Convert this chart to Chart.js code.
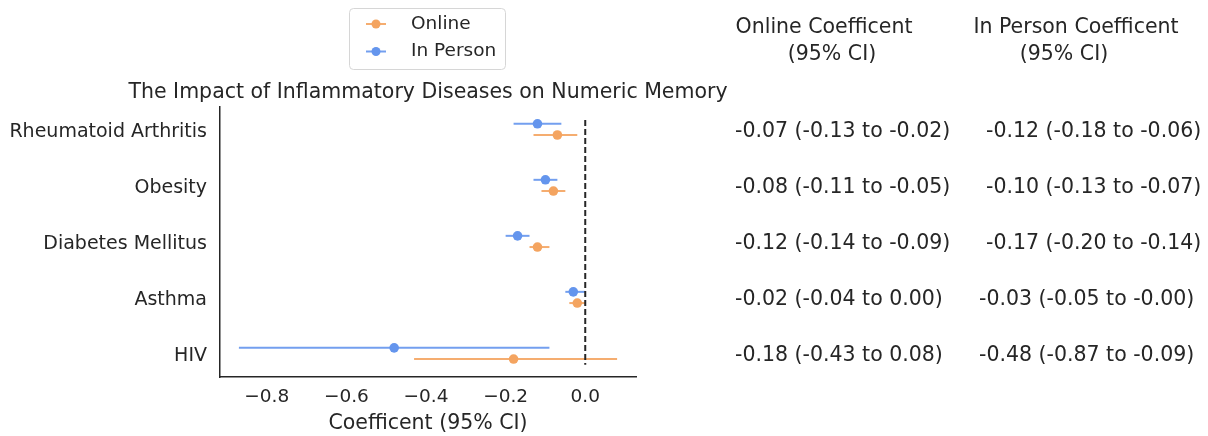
<!DOCTYPE html>
<html>
<head>
<meta charset="utf-8">
<script src="https://cdn.jsdelivr.net/npm/chart.js@4.4.1/dist/chart.umd.min.js"></script>
<style>
  html, body { margin: 0; padding: 0; background: #ffffff; }
  canvas { display: block; }
</style>
</head>
<body>
<canvas id="forest" width="1208" height="436"></canvas>
<script>
// Conditions, top to bottom
const conditions = ['Rheumatoid Arthritis', 'Obesity', 'Diabetes Mellitus', 'Asthma', 'HIV'];

// Online cohort: coefficient and 95% CI bounds
const onlineCoef = [-0.07, -0.08, -0.12, -0.02, -0.18];
const onlineLow  = [-0.13, -0.11, -0.14, -0.04, -0.43];
const onlineHigh = [-0.02, -0.05, -0.09,  0.00,  0.08];

// In person cohort: coefficient and 95% CI bounds
const inPersonCoef = [-0.12, -0.10, -0.17, -0.03, -0.48];
const inPersonLow  = [-0.18, -0.13, -0.20, -0.05, -0.87];
const inPersonHigh = [-0.06, -0.07, -0.14, -0.00, -0.09];

// x axis tick values
const xTickValues = [-0.8, -0.6, -0.4, -0.2, 0.0];

const FONT = "'DejaVu Sans', 'Liberation Sans', sans-serif";
const TEXT = '#262626';
const ORANGE = '#F4A460';
const BLUE = '#6495ED';

// two-decimal format that keeps the sign of negative zero
const fmt2 = v => ((v < 0 || Object.is(v, -0)) ? '-' : '') + Math.abs(v).toFixed(2);
const ciText = (c, lo, hi) => `${fmt2(c)} (${fmt2(lo)} to ${fmt2(hi)})`;

// horizontal confidence-interval lines plus the dashed reference line at zero
const errorBars = {
  id: 'errorBars',
  beforeDatasetsDraw(chart) {
    const { ctx, scales: { x, y } } = chart;
    chart.data.datasets.forEach(ds => {
      ctx.save();
      ctx.strokeStyle = ds.errColor;
      ctx.lineWidth = 2;
      ds.data.forEach((p, i) => {
        const py = y.getPixelForValue(p.y);
        ctx.beginPath();
        ctx.moveTo(x.getPixelForValue(ds.errLow[i]), py);
        ctx.lineTo(x.getPixelForValue(ds.errHigh[i]), py);
        ctx.stroke();
      });
      ctx.restore();
    });
    const x0 = x.getPixelForValue(0);
    ctx.save();
    ctx.strokeStyle = '#262626';
    ctx.lineWidth = 2;
    ctx.setLineDash([6, 3]);
    ctx.beginPath();
    ctx.moveTo(x0, y.getPixelForValue(-0.17));
    ctx.lineTo(x0, y.getPixelForValue(4.2));
    ctx.stroke();
    ctx.restore();
  }
};

// chart title, legend box and the coefficient table at the right
const annotations = {
  id: 'annotations',
  afterDraw(chart) {
    const { ctx, chartArea: area, scales: { y } } = chart;
    ctx.save();
    ctx.fillStyle = TEXT;

    // title
    ctx.font = `20.5px ${FONT}`;
    ctx.textAlign = 'center';
    ctx.textBaseline = 'alphabetic';
    ctx.fillText('The Impact of Inflammatory Diseases on Numeric Memory', (area.left + area.right) / 2, 98);

    // column headers
    ctx.fillText('Online Coefficent', 824, 33);
    ctx.fillText('(95% CI)', 832, 60);
    ctx.fillText('In Person Coefficent', 1076, 33);
    ctx.fillText('(95% CI)', 1064, 60);

    // table rows
    ctx.textAlign = 'left';
    ctx.textBaseline = 'middle';
    const col2Left = [986, 986, 986, 979, 979];
    conditions.forEach((c, i) => {
      const py = y.getPixelForValue(i) + 2;
      ctx.fillText(ciText(onlineCoef[i], onlineLow[i], onlineHigh[i]), 735, py);
      ctx.fillText(ciText(inPersonCoef[i], inPersonLow[i], inPersonHigh[i]), col2Left[i], py);
    });

    // legend
    const bx = 349.5, by = 8.5, bw = 156, bh = 61, r = 4;
    ctx.beginPath();
    ctx.moveTo(bx + r, by);
    ctx.arcTo(bx + bw, by, bx + bw, by + bh, r);
    ctx.arcTo(bx + bw, by + bh, bx, by + bh, r);
    ctx.arcTo(bx, by + bh, bx, by, r);
    ctx.arcTo(bx, by, bx + bw, by, r);
    ctx.closePath();
    ctx.fillStyle = 'rgba(255,255,255,0.8)';
    ctx.fill();
    ctx.strokeStyle = '#d6d6d6';
    ctx.lineWidth = 1;
    ctx.stroke();

    const rowsY = [24, 51.5];
    chart.data.datasets.forEach((ds, k) => {
      const ly = rowsY[k];
      ctx.strokeStyle = ds.errColor;
      ctx.lineWidth = 2;
      ctx.beginPath();
      ctx.moveTo(366, ly);
      ctx.lineTo(386, ly);
      ctx.stroke();
      ctx.fillStyle = ds.backgroundColor;
      ctx.beginPath();
      ctx.arc(376, ly, 4.5, 0, Math.PI * 2);
      ctx.fill();
      ctx.fillStyle = TEXT;
      ctx.font = `18.5px ${FONT}`;
      ctx.textAlign = 'left';
      ctx.textBaseline = 'middle';
      ctx.fillText(ds.label, 411, ly);
    });
    ctx.restore();
  }
};

const makeSeries = (label, coef, low, high, offset, color, lineColor) => ({
  label,
  data: coef.map((v, i) => ({ x: v, y: i + offset })),
  errLow: low,
  errHigh: high,
  errColor: lineColor,
  backgroundColor: color,
  borderColor: color,
  borderWidth: 0,
  pointRadius: 4.8,
  pointHoverRadius: 4.8,
  showLine: false
});

new Chart(document.getElementById('forest'), {
  type: 'scatter',
  data: {
    datasets: [
      makeSeries('Online', onlineCoef, onlineLow, onlineHigh, 0.1, ORANGE, 'rgba(244,164,96,0.9)'),
      makeSeries('In Person', inPersonCoef, inPersonLow, inPersonHigh, -0.1, BLUE, 'rgba(100,149,237,0.9)')
    ]
  },
  options: {
    responsive: false,
    animation: false,
    devicePixelRatio: 1,
    layout: { padding: { top: 107, right: 572, left: 0, bottom: 0 } },
    plugins: {
      legend: { display: false },
      tooltip: { enabled: false },
      title: { display: false }
    },
    scales: {
      x: {
        type: 'linear',
        position: 'bottom',
        min: -0.9175,
        max: 0.1275,
        afterBuildTicks: s => { s.ticks = xTickValues.map(v => ({ value: v })); },
        afterFit: s => { s.height = 59; },
        grid: { display: false, drawTicks: false },
        border: { display: true, color: '#262626', width: 1.5 },
        ticks: {
          padding: 9,
          color: TEXT,
          font: { family: FONT, size: 18.5 },
          callback: v => (v < 0 ? '\u2212' : '') + Math.abs(v).toFixed(1)
        },
        title: {
          display: true,
          text: 'Coefficent (95% CI)',
          color: TEXT,
          font: { family: FONT, size: 20.5 },
          padding: { top: 0, bottom: 0 }
        }
      },
      y: {
        type: 'linear',
        position: 'left',
        reverse: true,
        min: -0.4,
        max: 4.42,
        afterBuildTicks: s => { s.ticks = conditions.map((c, i) => ({ value: i })); },
        afterFit: s => { s.width = 220; },
        grid: { display: false, drawTicks: false },
        border: { display: true, color: '#262626', width: 1.5 },
        ticks: {
          padding: 13,
          labelOffset: 3,
          color: TEXT,
          font: { family: FONT, size: 19 },
          callback: v => conditions[v]
        }
      }
    }
  },
  plugins: [errorBars, annotations]
});
</script>
</body>
</html>
